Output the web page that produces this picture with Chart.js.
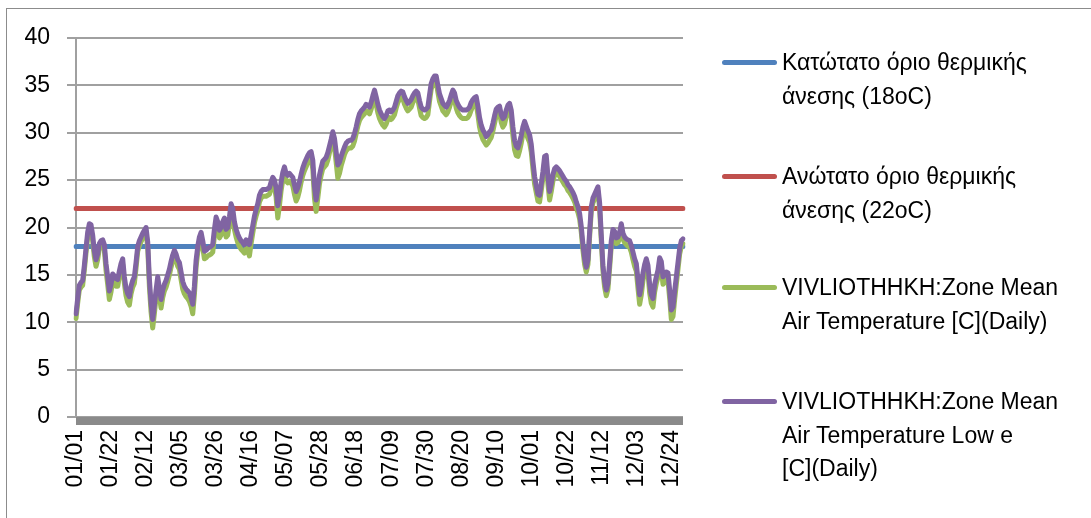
<!DOCTYPE html>
<html><head><meta charset="utf-8">
<script src="https://cdn.jsdelivr.net/npm/chart.js@4.4.0/dist/chart.umd.min.js"></script>
<style>
html,body{margin:0;padding:0;background:#fff;overflow:hidden;}
#wrap{position:relative;width:1091px;height:518px;overflow:hidden;}
#frame{position:absolute;left:6px;top:8px;width:1100px;height:520px;border:1px solid #8c8c8c;box-sizing:border-box;}
#c{position:absolute;left:0;top:0;}
.leg{position:absolute;left:722px;font-family:"Liberation Sans",Arial,sans-serif;font-size:23px;line-height:33.5px;color:#000;}
.leg .sw{position:absolute;left:0;width:55px;height:5px;border-radius:3px;top:14px;}
.leg .tx{position:absolute;left:60px;white-space:nowrap;}
</style></head>
<body>
<div id="wrap">
<div id="frame"></div>
<canvas id="c" width="1091" height="518"></canvas>
<div id="legend"></div>
</div>
<script>
const tickLabels = ['01/01','01/22','02/12','03/05','03/26','04/16','05/07','05/28','06/18','07/09','07/30','08/20','09/10','10/01','10/22','11/12','12/03','12/24'];
const seriesNames = [
  ['Κατώτατο όριο θερμικής','άνεσης (18oC)'],
  ['Ανώτατο όριο θερμικής','άνεσης (22oC)'],
  ['VIVLIOTHHKH:Zone Mean','Air Temperature [C](Daily)'],
  ['VIVLIOTHHKH:Zone Mean','Air Temperature Low e','[C](Daily)']
];
const lowerLimit = 18;
const upperLimit = 22;
const zoneMean = [
10.4,12.0,13.4,13.7,13.9,15.5,17.3,19.0,19.9,19.8,
18.6,16.9,15.9,16.6,17.8,18.1,18.2,17.6,15.5,14.0,
12.4,13.2,14.4,14.1,13.8,13.8,14.8,15.6,16.1,14.1,
12.8,12.1,11.8,13.0,13.7,14.1,15.7,17.5,18.1,18.5,
18.9,19.2,19.5,17.9,13.8,11.1,9.4,10.9,12.6,14.1,
12.8,11.5,12.6,13.3,13.7,14.3,15.0,15.8,16.5,17.0,
16.6,15.9,15.6,14.5,13.5,13.0,12.7,12.5,12.2,11.7,
10.9,12.9,15.8,17.4,18.4,18.9,17.9,16.7,16.8,17.0,
17.1,17.2,17.4,19.1,20.5,19.9,18.9,19.2,19.9,20.3,
19.0,19.2,20.4,21.9,21.3,19.8,19.0,18.4,18.0,17.7,
17.5,17.3,17.8,17.6,17.0,18.3,19.4,20.5,21.2,21.8,
22.7,23.1,23.3,23.3,23.3,23.4,23.5,24.1,24.7,24.3,
23.2,21.0,22.3,23.9,25.0,25.7,24.9,24.7,24.9,24.7,
24.4,23.5,22.8,23.2,23.9,24.8,25.5,26.0,26.4,26.9,
27.2,27.3,26.2,23.1,21.7,23.1,24.6,25.5,26.2,26.4,
26.6,27.1,27.9,28.6,29.4,28.5,26.9,25.2,25.7,26.5,
27.1,27.7,28.1,28.3,28.4,28.4,28.6,29.1,29.9,30.7,
31.3,31.6,31.8,32.0,32.3,32.2,32.0,32.5,33.2,33.8,
33.0,32.1,31.5,31.1,30.8,30.6,30.9,31.4,31.6,31.4,
31.6,31.9,32.6,33.2,33.5,33.7,33.6,33.0,32.6,32.3,
32.5,32.7,33.2,33.5,33.7,33.5,32.6,31.8,31.6,31.5,
31.6,31.9,33.3,34.6,35.1,35.4,35.4,34.3,33.3,32.8,
32.3,32.1,31.9,32.2,32.7,33.3,33.8,33.5,32.6,32.1,
31.8,31.6,31.5,31.5,31.5,31.6,31.9,32.4,32.8,33.0,
33.1,31.9,30.6,29.8,29.3,29.0,28.7,28.9,29.2,29.5,
30.2,31.0,31.8,32.0,32.1,31.1,30.6,30.9,31.7,32.2,
32.4,31.6,29.7,28.2,27.6,27.5,28.1,28.9,29.9,30.5,
30.0,29.4,29.0,28.0,26.2,24.6,23.7,22.8,22.7,23.9,
25.2,26.9,26.9,24.6,22.9,23.8,24.9,25.5,25.8,25.6,
25.4,25.1,24.8,24.5,24.3,23.9,23.7,23.4,23.1,22.7,
22.1,21.6,20.9,19.5,17.6,16.1,15.3,16.1,19.0,21.7,
22.6,23.0,23.4,23.8,22.0,18.6,15.4,13.7,12.8,13.5,
15.7,18.1,19.3,19.0,18.3,18.4,18.9,19.8,18.8,18.4,
18.2,18.0,17.9,17.4,16.6,15.9,15.4,13.6,11.9,12.9,
14.4,15.3,16.0,15.2,13.1,12.0,11.6,13.2,14.1,14.8,
16.2,15.7,14.0,14.2,14.5,14.4,12.5,10.3,10.6,12.4,
14.0,15.6,17.2,18.0,18.3
];
const zoneMeanLowE = [
10.9,12.5,13.9,14.2,14.4,16.0,17.8,19.5,20.4,20.3,
19.2,17.5,16.6,17.2,18.3,18.6,18.7,18.2,16.2,14.8,
13.3,14.0,15.1,14.9,14.6,14.5,15.4,16.2,16.7,14.8,
13.6,13.0,12.7,13.8,14.4,14.8,16.3,18.0,18.6,19.0,
19.4,19.7,20.0,18.5,14.6,12.0,10.3,11.8,13.4,14.8,
13.6,12.4,13.4,14.0,14.4,15.0,15.6,16.4,17.1,17.6,
17.2,16.6,16.3,15.3,14.3,13.8,13.5,13.3,13.1,12.6,
11.9,13.8,16.5,18.0,19.0,19.5,18.6,17.5,17.6,17.8,
17.9,18.0,18.2,19.8,21.1,20.6,19.7,20.0,20.6,21.0,
19.8,20.0,21.1,22.5,22.0,20.6,19.8,19.3,18.9,18.6,
18.4,18.2,18.7,18.6,18.2,19.2,20.2,21.2,21.9,22.5,
23.4,23.8,24.0,24.0,24.0,24.1,24.2,24.8,25.3,25.0,
24.2,22.3,23.4,24.8,25.8,26.4,25.7,25.5,25.7,25.5,
25.3,24.5,23.8,24.2,24.8,25.6,26.3,26.8,27.2,27.6,
27.9,28.0,27.1,24.3,22.9,24.2,25.5,26.3,27.0,27.2,
27.4,27.9,28.6,29.3,30.1,29.4,28.0,26.6,26.9,27.5,
28.0,28.5,28.9,29.1,29.2,29.2,29.4,29.9,30.6,31.4,
32.0,32.3,32.5,32.7,33.0,32.9,32.7,33.2,33.9,34.5,
33.8,33.0,32.4,32.0,31.7,31.5,31.8,32.3,32.4,32.2,
32.4,32.7,33.3,33.9,34.2,34.4,34.3,33.8,33.4,33.1,
33.3,33.5,33.9,34.2,34.4,34.2,33.4,32.7,32.5,32.4,
32.5,32.7,34.0,35.2,35.7,36.0,36.0,35.0,34.1,33.6,
33.1,32.9,32.7,33.0,33.4,34.0,34.5,34.2,33.4,33.0,
32.7,32.5,32.4,32.4,32.4,32.5,32.7,33.2,33.5,33.7,
33.8,32.8,31.6,30.8,30.3,30.0,29.6,29.8,30.1,30.3,
31.0,31.8,32.5,32.7,32.8,31.9,31.5,31.7,32.4,32.9,
33.1,32.4,30.6,29.2,28.6,28.4,29.0,29.7,30.6,31.2,
30.7,30.2,29.8,28.8,27.0,25.4,24.4,23.5,23.4,24.6,
25.9,27.5,27.6,25.4,23.8,24.6,25.6,26.2,26.4,26.2,
26.0,25.7,25.4,25.1,24.9,24.5,24.3,24.0,23.7,23.3,
22.7,22.2,21.5,20.1,18.2,16.7,15.8,16.6,19.5,22.2,
23.1,23.5,23.9,24.3,22.6,19.2,16.0,14.3,13.4,14.1,
16.3,18.6,19.8,19.6,18.9,19.0,19.5,20.4,19.4,19.0,
18.8,18.7,18.6,18.1,17.4,16.7,16.2,14.5,12.9,13.8,
15.2,16.1,16.7,16.0,14.0,12.9,12.5,14.0,14.8,15.5,
16.8,16.4,14.8,15.0,15.3,15.2,13.4,11.3,11.6,13.3,
14.8,16.3,17.8,18.6,18.8
];
const colors = ['#4F81BD','#C0504D','#9BBB59','#8064A2'];

// daily categories for a non-leap year
const categories = [];
for (let d = 0; d < zoneMean.length; d++) {
  const dt = new Date(Date.UTC(2021, 0, 1 + d));
  categories.push(String(dt.getUTCMonth() + 1).padStart(2, '0') + '/' + String(dt.getUTCDate()).padStart(2, '0'));
}
const first = categories[0], last = categories[categories.length - 1];

const FONT = '"Liberation Sans", Arial, sans-serif';
Chart.defaults.font.family = FONT;
Chart.defaults.font.size = 23;
Chart.defaults.color = '#000';

const zeroBand = {
  id: 'zeroBand',
  afterDatasetsDraw(chart) {
    const {ctx, chartArea, scales} = chart;
    const y0 = scales.y.getPixelForValue(0);
    ctx.save();
    ctx.fillStyle = '#8a8a8a';
    ctx.fillRect(chartArea.left, y0, chartArea.right - chartArea.left, 8);
    ctx.restore();
  }
};

const lineStyle = {pointRadius: 0, borderWidth: 5, borderCapStyle: 'round', borderJoinStyle: 'round', tension: 0, fill: false};

new Chart(document.getElementById('c'), {
  type: 'line',
  data: {
    labels: categories,
    datasets: [
      Object.assign({label: seriesNames[0].join(' '), data: [{x: first, y: lowerLimit}, {x: last, y: lowerLimit}], borderColor: colors[0], order: 4}, lineStyle),
      Object.assign({label: seriesNames[1].join(' '), data: [{x: first, y: upperLimit}, {x: last, y: upperLimit}], borderColor: colors[1], order: 3}, lineStyle),
      Object.assign({label: seriesNames[2].join(' '), data: zoneMean, borderColor: colors[2], order: 2}, lineStyle),
      Object.assign({label: seriesNames[3].join(' '), data: zoneMeanLowE, borderColor: colors[3], order: 1}, lineStyle)
    ]
  },
  options: {
    responsive: false,
    animation: false,
    events: [],
    layout: {padding: {left: 0, right: 408, top: 38, bottom: 0}},
    plugins: {legend: {display: false}, tooltip: {enabled: false}},
    scales: {
      x: {
        type: 'category',
        offset: false,
        grid: {display: false, drawTicks: false},
        border: {display: false},
        ticks: {
          autoSkip: false, maxRotation: 90, minRotation: 90, padding: 13,
          callback: (v, i) => (i % 21 === 0 ? tickLabels[i / 21] : null)
        },
        afterFit: (s) => { s.height = 101; }
      },
      y: {
        min: 0, max: 40,
        grid: {color: '#a0a0a0', lineWidth: 2, tickLength: 9},
        border: {display: true, color: '#a0a0a0', width: 2},
        ticks: {stepSize: 5, padding: 17},
        afterFit: (s) => { s.width = 76; }
      }
    }
  },
  plugins: [zeroBand]
});

// legend (HTML text)
const legendTops = [63, 177, 288, 402];
const leg = document.getElementById('legend');
seriesNames.forEach((lines, i) => {
  const d = document.createElement('div');
  d.className = 'leg';
  d.style.top = (legendTops[i] - 16.75) + 'px';
  const sw = document.createElement('div');
  sw.className = 'sw';
  sw.style.background = colors[i];
  const tx = document.createElement('div');
  tx.className = 'tx';
  tx.innerHTML = lines.join('<br>');
  d.appendChild(sw); d.appendChild(tx);
  leg.appendChild(d);
});
</script>
</body></html>
